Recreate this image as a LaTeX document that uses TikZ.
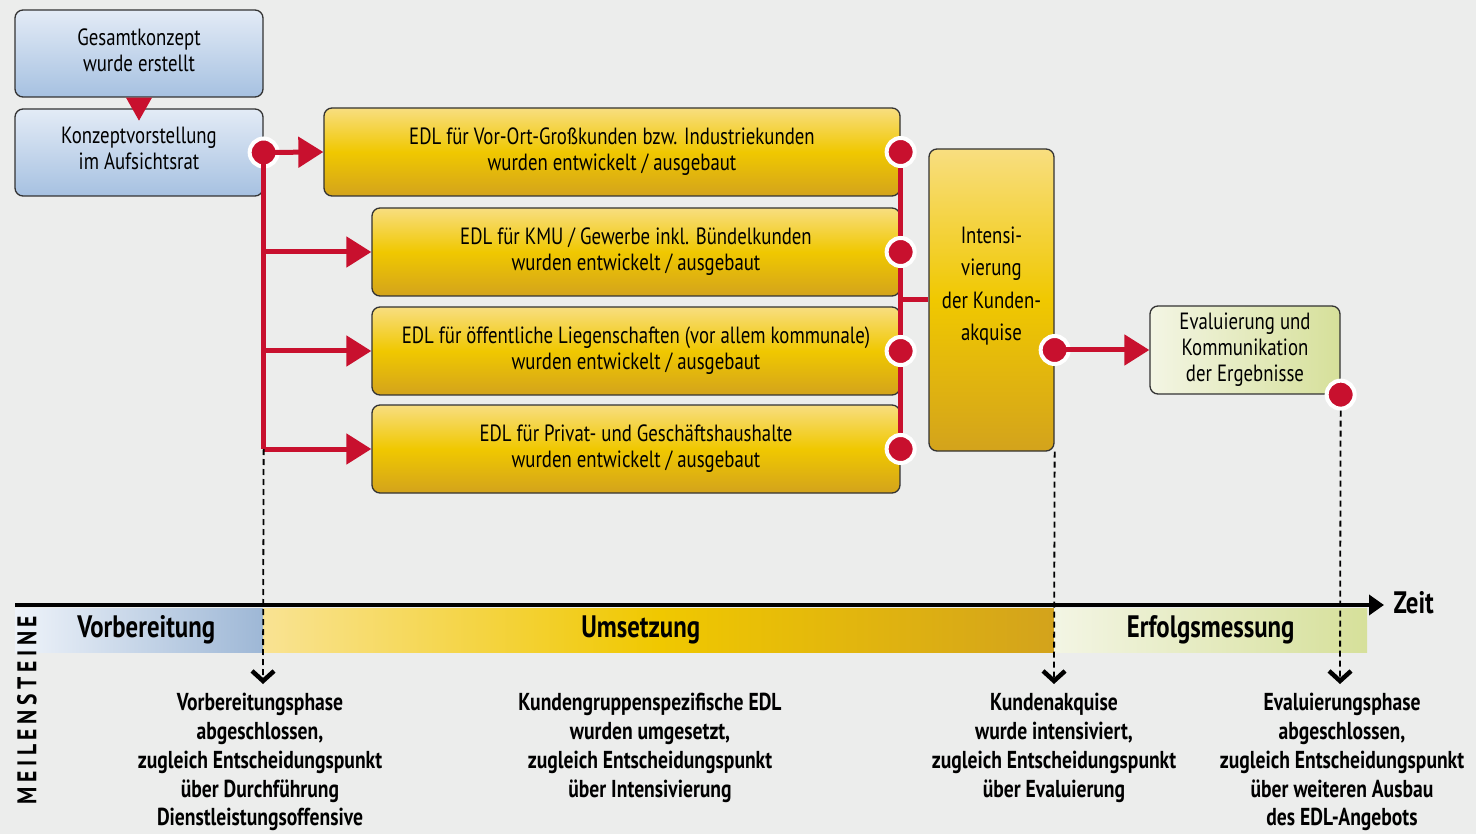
\documentclass[tikz,border=0pt]{standalone}
\usepackage{fontspec}
\setmainfont[FakeStretch=0.8]{PT Sans}
\usetikzlibrary{arrows.meta,positioning}
\definecolor{bgGrey}{HTML}{ECEDEC}
\definecolor{edlRed}{HTML}{C8102E}
\definecolor{blueTop}{HTML}{E3EBF6}
\definecolor{blueBot}{HTML}{A6C1E1}
\definecolor{goldTop}{HTML}{F8DE80}
\definecolor{goldMid}{HTML}{F0C800}
\definecolor{goldBot}{HTML}{D3A31C}
\definecolor{evalLeft}{HTML}{F3F5E4}
\definecolor{evalRight}{HTML}{D6E09A}
\begin{document}
\begin{tikzpicture}[x=1pt, y=-1pt,
    box/.style={draw=black!80, line width=1.3pt, rounded corners=8pt,
        align=center, inner sep=0pt, font=\fontsize{23.5}{26}\selectfont},
    bluebox/.style={box, top color=blueTop, bottom color=blueBot,
        minimum width=248pt, minimum height=87pt},
    goldbox/.style={box, top color=goldTop, bottom color=goldBot,
        middle color=goldMid, minimum height=88pt},
    reddot/.style={circle, fill=edlRed, draw=white, line width=4pt,
        minimum size=28pt, inner sep=0pt},
    redline/.style={edlRed, line width=5pt},
    redarrow/.style={redline, -{Triangle[length=25pt,width=30pt]}},
    milestone/.style={black, line width=1.8pt, dash pattern=on 6pt off 4pt,
        -{Straight Barb[length=10pt,width=22pt,line width=4.5pt]}},
    mstext/.style={align=center, anchor=north, inner sep=0pt,
        font=\bfseries\fontsize{24.5}{28.8}\selectfont},
    band/.style={anchor=north west, minimum height=44pt, inner sep=0pt},
    phasetext/.style={font=\bfseries\fontsize{31}{31}\selectfont}]
    \useasboundingbox[fill=bgGrey] (0,0) rectangle (1476,834);
    % vorbereitung
    \node[bluebox] (gesamt) at (139,53.5) {};
    \node[bluebox] (konzept) at (139,152.5) {};
    \node[align=center, font=\fontsize{23.5}{26}\selectfont] 
        at ([yshift=3pt]gesamt.center) {Gesamtkonzept\\wurde erstellt};
    \node[align=center, font=\fontsize{23.5}{26}\selectfont]
        at ([yshift=4pt]konzept.center) {Konzeptvorstellung\\im Aufsichtsrat};
    \fill[edlRed] ([xshift=-13pt]gesamt.south) -- ++(26,0) -- ++(-13,23) 
        -- cycle;
    % umsetzung
    \node[goldbox, minimum width=576pt] (vorort) at (612,152)
        {EDL für Vor-Ort-Großkunden bzw. Industriekunden\\wurden entwickelt / ausgebaut};
    \node[goldbox, minimum width=528pt] (kmu) at (636,252)
        {EDL für KMU / Gewerbe inkl. Bündelkunden\\wurden entwickelt / ausgebaut};
    \node[goldbox, minimum width=528pt] (oeff) at (636,351)
        {EDL für öffentliche Liegenschaften (vor allem kommunale)\\wurden entwickelt / ausgebaut};
    \node[goldbox, minimum width=528pt] (privat) at (636,449)
        {EDL für Privat- und Geschäftshaushalte\\wurden entwickelt / ausgebaut};
    \node[goldbox, minimum width=125pt, minimum height=302pt] (akquise)
        at (991.5,300) {};
    \node[align=center, font=\fontsize{23.5}{32.5}\selectfont] (akquisetext)
        at ([yshift=14pt]akquise.center)
        {Intensi-\\vierung\\der Kunden-\\akquise};
    % erfolgsmessung
    \node[box, left color=evalLeft, right color=evalRight,
        minimum width=190pt, minimum height=88pt] (eval) at (1245,350)
        {Evaluierung und\\Kommunikation\\der Ergebnisse};
    % verbindungen
    \node[reddot] (d0) at (konzept.east) {};
    \draw[redline] (d0.center) -- (d0 |- privat.west);
    \draw[redarrow] (d0.center) -- (vorort.west);
    \foreach \b in {kmu, oeff, privat}
        \draw[redarrow] (d0 |- \b.west) -- (\b.west);
    \draw[redline] (vorort.east) -- (vorort.east |- privat.east);
    \draw[redline] (vorort.east |- akquise.west) -- (akquise.west);
    \foreach \b/\n in {vorort/1, kmu/2, oeff/3, privat/4}
        \node[reddot] (d\n) at (\b.east) {};
    \node[reddot] (d5) at (akquise.east |- eval.west) {};
    \draw[redarrow] (d5.center) -- (eval.west);
    \node[reddot] (d6) at (eval.south east) {};
    % zeitachse
    \node[band, minimum width=248pt, left color=blueTop!60!white,
        right color=blueBot!95!black] (vorb) at (15,608) {};
    \node[band, minimum width=791pt, left color=goldTop!85!white,
        right color=goldBot, middle color=goldMid] (umsetz) at (263,608) {};
    \node[band, minimum width=313pt, left color=evalLeft,
        right color=evalRight] (erfolg) at (1054,608) {};
    \node[phasetext] at ([xshift=7pt]vorb.center) {Vorbereitung};
    \node[phasetext] at ([xshift=-18pt]umsetz.center) {Umsetzung};
    \node[phasetext] at (erfolg.center) {Erfolgsmessung};
    \node[phasetext, anchor=west] (zeit) at (1390,603) {Zeit};
    \coordinate (tstart) at (15,605);
    \draw[line width=4pt, -{Triangle[length=15pt,width=20pt]}]
        (tstart) -- ([xshift=-6pt]zeit.west |- tstart);
    \node[rotate=90, font=\bfseries\fontsize{27}{27}\selectfont] (meilen)
        at (27,710) {\addfontfeature{LetterSpace=17}MEILENSTEINE};
    % meilensteine
    \coordinate (m1) at (263,684);
    \coordinate (m3) at (1054,684);
    \coordinate (m4) at (1340,684);
    \draw[milestone] (d0 |- privat.west) -- (m1);
    \draw[milestone] (akquise.south east) -- (m3);
    \draw[milestone] (d6.south) -- (m4);
    \node[mstext] (ms1) at (260,693) {Vorbereitungsphase\\abgeschlossen,\\
        zugleich Entscheidungspunkt\\über Durchführung\\Dienstleistungsoffensive};
    \node[mstext] (ms2) at (650,693) {Kundengruppenspezifische EDL\\
        wurden umgesetzt,\\zugleich Entscheidungspunkt\\über Intensivierung};
    \node[mstext] (ms3) at (1054,693) {Kundenakquise\\wurde intensiviert,\\
        zugleich Entscheidungspunkt\\über Evaluierung};
    \node[mstext] (ms4) at (1342,693) {Evaluierungsphase\\abgeschlossen,\\
        zugleich Entscheidungspunkt\\über weiteren Ausbau\\des EDL-Angebots};
\end{tikzpicture}
\end{document}
